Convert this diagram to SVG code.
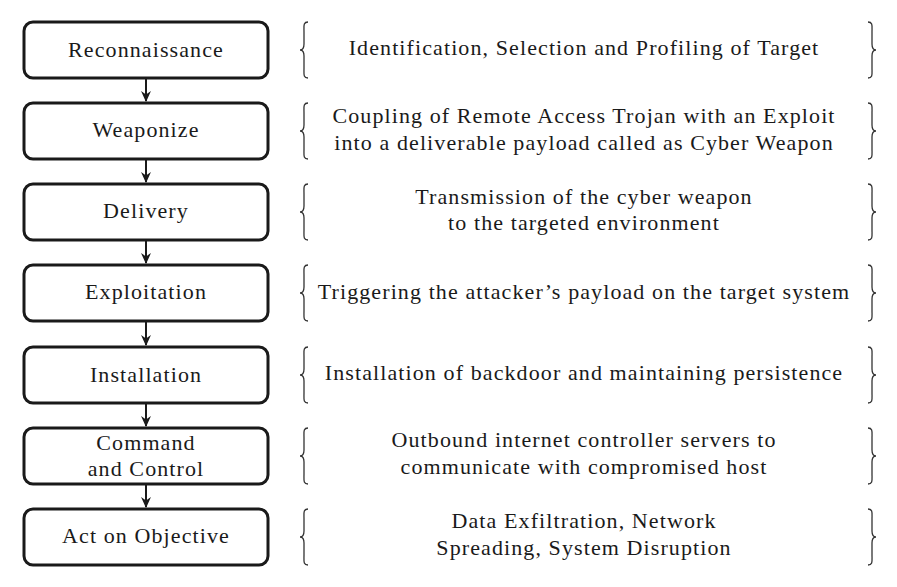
<svg xmlns="http://www.w3.org/2000/svg" width="897" height="587" viewBox="0 0 897 587">
<defs>
<marker id="ah" viewBox="0 0 10 10" refX="9" refY="5" markerWidth="11" markerHeight="11" markerUnits="userSpaceOnUse" orient="auto">
<path d="M0,0.5 L10,5 L0,9.5 L3,5 Z" fill="#1a1a1a"/>
</marker>
<path id="lb" d="M8,0 C3,0 4,4 4,10 L4,22 C4,26 3,28 0,28 C3,28 4,30 4,34 L4,46 C4,52 3,56 8,56" fill="none" stroke="#333" stroke-width="1.3"/>
<path id="rb" d="M0,0 C5,0 4,4 4,10 L4,22 C4,26 5,28 8,28 C5,28 4,30 4,34 L4,46 C4,52 5,56 0,56" fill="none" stroke="#333" stroke-width="1.3"/>
</defs>
<style>
.box{fill:#fff;stroke:#1a1a1a;stroke-width:3}
.t{font-family:"Liberation Serif","DejaVu Serif",serif;font-size:22px;letter-spacing:1.1px;fill:#1a1a1a;text-anchor:middle}
.c{stroke:#1a1a1a;stroke-width:2;fill:none}
</style>
<rect width="897" height="587" fill="#fff"/>
<g id="connectors">
<line class="c" x1="146" y1="79" x2="146" y2="101" marker-end="url(#ah)"/>
<line class="c" x1="146" y1="160" x2="146" y2="182" marker-end="url(#ah)"/>
<line class="c" x1="146" y1="241" x2="146" y2="263" marker-end="url(#ah)"/>
<line class="c" x1="146" y1="322" x2="146" y2="345" marker-end="url(#ah)"/>
<line class="c" x1="146" y1="404" x2="146" y2="426" marker-end="url(#ah)"/>
<line class="c" x1="146" y1="485" x2="146" y2="507" marker-end="url(#ah)"/>
</g>
<g id="n1"><rect class="box" x="24" y="22" width="244" height="56" rx="9"/><text class="t" x="146" y="57">Reconnaissance</text></g>
<g id="n2"><rect class="box" x="24" y="103" width="244" height="56" rx="9"/><text class="t" x="146" y="137">Weaponize</text></g>
<g id="n3"><rect class="box" x="24" y="184" width="244" height="56" rx="9"/><text class="t" x="146" y="218">Delivery</text></g>
<g id="n4"><rect class="box" x="24" y="265" width="244" height="56" rx="9"/><text class="t" x="146" y="299">Exploitation</text></g>
<g id="n5"><rect class="box" x="24" y="347" width="244" height="56" rx="9"/><text class="t" x="146" y="382">Installation</text></g>
<g id="n6"><rect class="box" x="24" y="428" width="244" height="56" rx="9"/><text class="t" x="146" y="450">Command</text><text class="t" x="146" y="476">and Control</text></g>
<g id="n7"><rect class="box" x="24" y="509" width="244" height="56" rx="9"/><text class="t" x="146" y="543">Act on Objective</text></g>
<g id="d1"><use href="#lb" x="300" y="22"/><use href="#rb" x="868" y="22"/><text class="t" x="584" y="55">Identification, Selection and Profiling of Target</text></g>
<g id="d2"><use href="#lb" x="300" y="103"/><use href="#rb" x="868" y="103"/><text class="t" x="584" y="123">Coupling of Remote Access Trojan with an Exploit</text><text class="t" x="584" y="150">into a deliverable payload called as Cyber Weapon</text></g>
<g id="d3"><use href="#lb" x="300" y="184"/><use href="#rb" x="868" y="184"/><text class="t" x="584" y="204">Transmission of the cyber weapon</text><text class="t" x="584" y="230">to the targeted environment</text></g>
<g id="d4"><use href="#lb" x="300" y="265"/><use href="#rb" x="868" y="265"/><text class="t" x="584" y="299">Triggering the attacker’s payload on the target system</text></g>
<g id="d5"><use href="#lb" x="300" y="347"/><use href="#rb" x="868" y="347"/><text class="t" x="584" y="380">Installation of backdoor and maintaining persistence</text></g>
<g id="d6"><use href="#lb" x="300" y="428"/><use href="#rb" x="868" y="428"/><text class="t" x="584" y="447">Outbound internet controller servers to</text><text class="t" x="584" y="474">communicate with compromised host</text></g>
<g id="d7"><use href="#lb" x="300" y="509"/><use href="#rb" x="868" y="509"/><text class="t" x="584" y="528">Data Exfiltration, Network</text><text class="t" x="584" y="555">Spreading, System Disruption</text></g>
</svg>
